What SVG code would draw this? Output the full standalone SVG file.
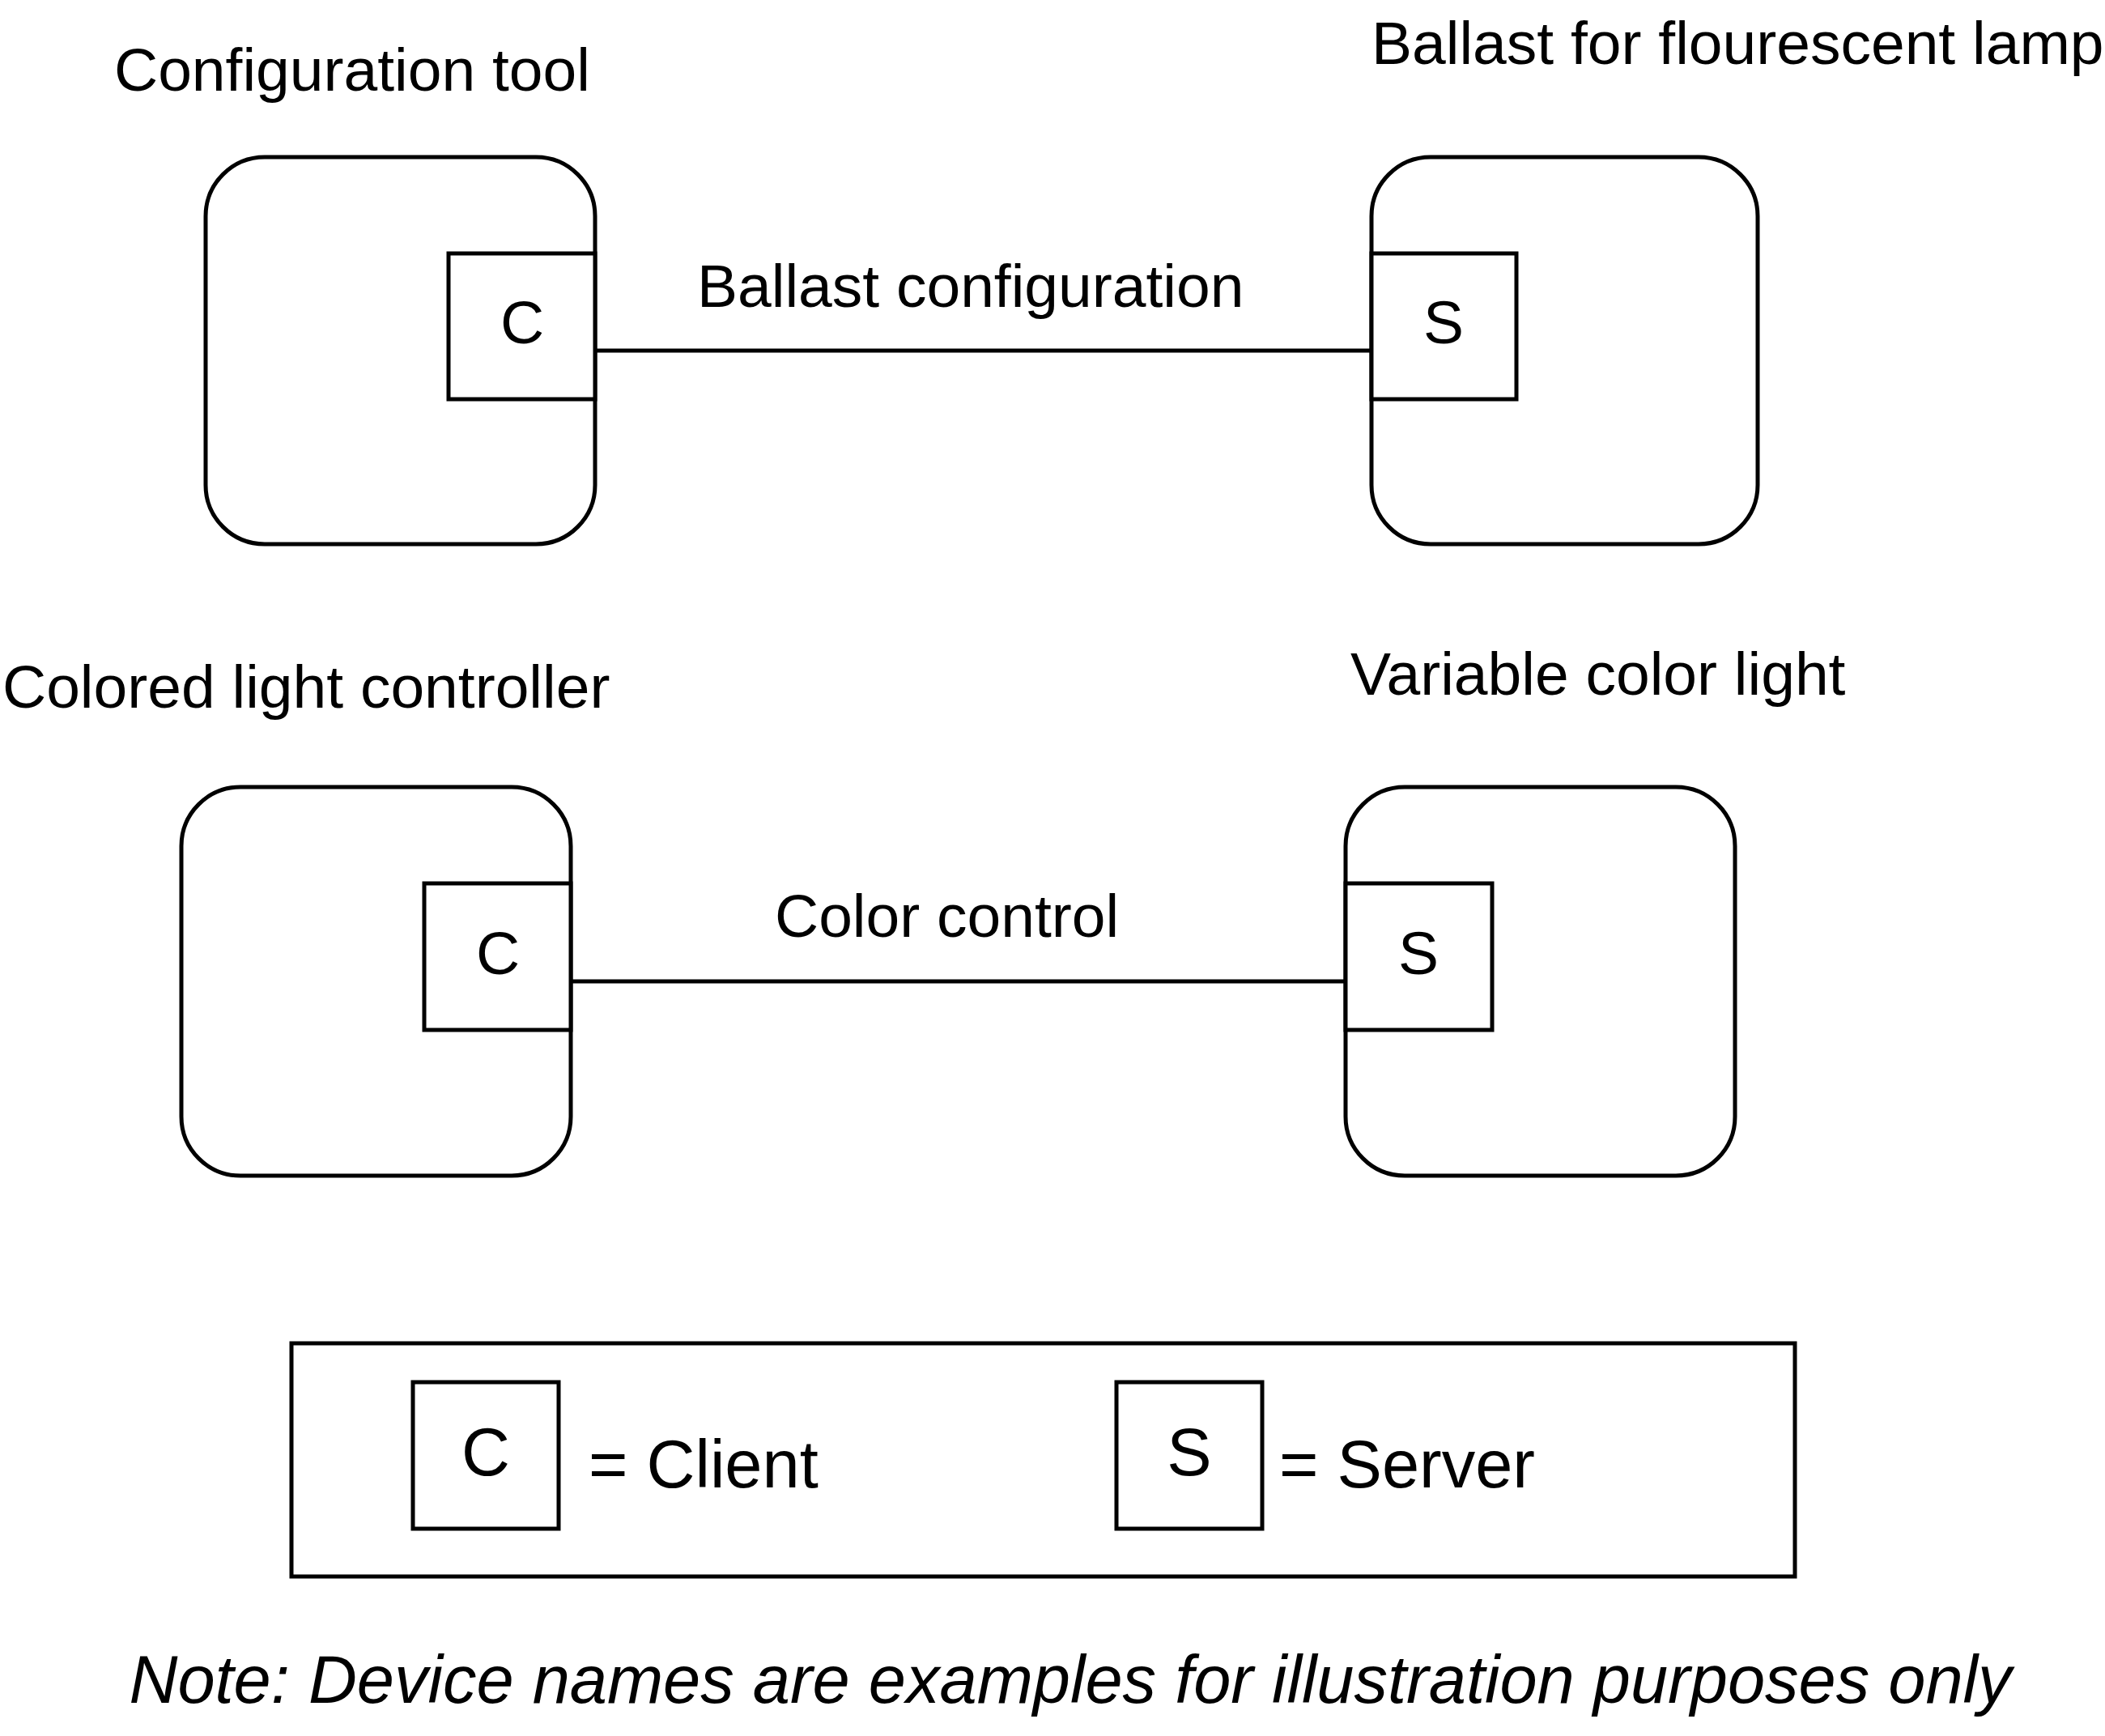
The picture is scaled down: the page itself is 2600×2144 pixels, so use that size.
<svg xmlns="http://www.w3.org/2000/svg" width="2600" height="2144" viewBox="0 0 2600 2144">
<style>
.dev{fill:none;stroke:#000;stroke-width:5}
.port{fill:#fff;stroke:#000;stroke-width:5}
.conn{stroke:#000;stroke-width:5;fill:none}
.lbl{font-family:"Liberation Sans",Arial,sans-serif;font-size:75px;fill:#000}
.big{font-family:"Liberation Sans",Arial,sans-serif;font-size:83px;fill:#000}
.note{font-family:"Liberation Sans",Arial,sans-serif;font-size:83px;font-style:italic;fill:#000}
</style>
<rect width="2600" height="2144" fill="#fff"/>
<g id="connectors">
<line class="conn" x1="735" y1="433" x2="1694" y2="433"/>
<line class="conn" x1="705" y1="1212" x2="1662" y2="1212"/>
<text class="lbl" x="861" y="379">Ballast configuration</text>
<text class="lbl" x="957" y="1157">Color control</text>
</g>
<g id="configuration-tool">
<text class="lbl" x="141" y="112">Configuration tool</text>
<rect class="dev" x="254" y="194" width="481" height="478" rx="73" ry="73"/>
<rect class="port" x="554" y="313" width="181" height="180"/>
<text class="lbl" x="645" y="424" text-anchor="middle">C</text>
</g>
<g id="ballast">
<text class="lbl" x="1694" y="79">Ballast for flourescent lamp</text>
<rect class="dev" x="1694" y="194" width="477" height="478" rx="73" ry="73"/>
<rect class="port" x="1694" y="313" width="179" height="180"/>
<text class="lbl" x="1783" y="424" text-anchor="middle">S</text>
</g>
<g id="colored-light-controller">
<text class="lbl" x="3" y="874">Colored light controller</text>
<rect class="dev" x="224" y="972" width="481" height="480" rx="73" ry="73"/>
<rect class="port" x="524" y="1091" width="181" height="181"/>
<text class="lbl" x="615" y="1203" text-anchor="middle">C</text>
</g>
<g id="variable-color-light">
<text class="lbl" x="1668" y="858">Variable color light</text>
<rect class="dev" x="1662" y="972" width="481" height="480" rx="73" ry="73"/>
<rect class="port" x="1662" y="1091" width="181" height="181"/>
<text class="lbl" x="1752" y="1203" text-anchor="middle">S</text>
</g>
<g id="legend">
<rect class="dev" x="360" y="1659" width="1857" height="288"/>
<rect class="port" x="510" y="1707" width="180" height="181"/>
<text class="big" x="600" y="1822" text-anchor="middle">C</text>
<text class="big" x="727" y="1837">= Client</text>
<rect class="port" x="1379" y="1707" width="180" height="181"/>
<text class="big" x="1469" y="1822" text-anchor="middle">S</text>
<text class="big" x="1580" y="1837">= Server</text>
</g>
<g id="note">
<text class="note" x="1322" y="2103" text-anchor="middle">Note: Device names are examples for illustration purposes only</text>
</g>
</svg>
